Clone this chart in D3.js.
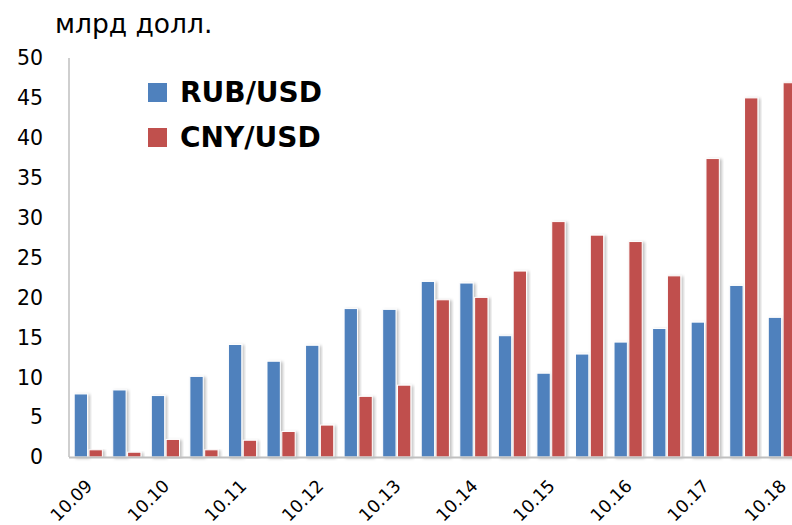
<!DOCTYPE html>
<html>
<head>
<meta charset="utf-8">
<script src="https://cdn.jsdelivr.net/npm/d3@7"></script>
<style>
  body { margin: 0; background: #fff; }
  svg text { font-family: "DejaVu Sans", sans-serif; fill: #000; }
</style>
</head>
<body>
<div id="chart"></div>
<script>
// semi-annual periods, only October ones are labelled
const categories = ["10.09", "04.10", "10.10", "04.11", "10.11", "04.12", "10.12", "04.13", "10.13",
  "04.14", "10.14", "04.15", "10.15", "04.16", "10.16", "04.17", "10.17", "04.18", "10.18"];
const rubUsd = [7.9, 8.4, 7.7, 10.1, 14.1, 12.0, 14.0, 18.6, 18.5, 22.0, 21.8, 15.2, 10.5, 12.9, 14.4, 16.1, 16.9, 21.5, 17.5];
const cnyUsd = [0.9, 0.6, 2.2, 0.9, 2.1, 3.2, 4.0, 7.6, 9.0, 19.7, 20.0, 23.3, 29.5, 27.8, 27.0, 22.7, 37.4, 45.0, 46.9];
const seriesNames = ["RUB/USD", "CNY/USD"];
const seriesColors = ["#4F81BD", "#C0504D"];
const yTicks = [0, 5, 10, 15, 20, 25, 30, 35, 40, 45, 50];

const width = 792, height = 525;
const margin = { top: 58, left: 69, bottom: 68 };

const svg = d3.select("#chart").append("svg")
  .attr("width", width)
  .attr("height", height);

const defs = svg.append("defs");
defs.append("filter")
  .attr("id", "shadow")
  .attr("x", "-30%").attr("y", "-10%").attr("width", "160%").attr("height", "120%")
  .append("feDropShadow")
  .attr("dx", 2).attr("dy", 1)
  .attr("stdDeviation", 1.5)
  .attr("flood-color", "#000")
  .attr("flood-opacity", 0.25);

const x0 = d3.scaleBand()
  .domain(categories)
  .range([margin.left, margin.left + 38.56 * categories.length])
  .padding(0);

const x1 = d3.scaleBand()
  .domain(seriesNames)
  .range([0, x0.bandwidth()])
  .paddingInner(0.1)
  .paddingOuter(0.35);

const y = d3.scaleLinear()
  .domain([0, 50])
  .range([height - margin.bottom, margin.top]);

// y axis line
svg.append("line")
  .attr("x1", margin.left).attr("x2", margin.left)
  .attr("y1", y(50)).attr("y2", y(0))
  .attr("stroke", "#BFBFBF").attr("stroke-width", 1.5);

// y tick labels
svg.append("g")
  .selectAll("text")
  .data(yTicks)
  .join("text")
  .attr("x", 43)
  .attr("y", d => y(d))
  .attr("dy", "0.36em")
  .attr("text-anchor", "end")
  .attr("font-size", "20.5px")
  .text(d => d);

// bars
const data = categories.map((c, i) => ({ cat: c, values: [rubUsd[i], cnyUsd[i]] }));

const groups = svg.append("g")
  .selectAll("g")
  .data(data)
  .join("g")
  .attr("transform", d => `translate(${x0(d.cat)},0)`);

groups.selectAll("rect")
  .data(d => d.values.map((v, k) => ({ name: seriesNames[k], value: v, k: k })))
  .join("rect")
  .attr("x", d => x1(d.name))
  .attr("y", d => y(d.value))
  .attr("width", x1.bandwidth())
  .attr("height", d => y(0) - y(d.value))
  .attr("fill", d => seriesColors[d.k])
  .attr("stroke", "#fff")
  .attr("stroke-width", 1)
  .attr("filter", "url(#shadow)");

// x axis line
svg.append("line")
  .attr("x1", margin.left).attr("x2", width)
  .attr("y1", y(0) + 0.5).attr("y2", y(0) + 0.5)
  .attr("stroke", "#BFBFBF").attr("stroke-width", 2);

// x labels
svg.append("g")
  .selectAll("text")
  .data(categories.filter(c => c.startsWith("10.")))
  .join("text")
  .attr("transform", d => `translate(${x0(d) + x0.bandwidth() / 2 + 5},${y(0) + 30}) rotate(-45)`)
  .attr("text-anchor", "end")
  .attr("font-size", "17.5px")
  .text(d => d);

// title
svg.append("text")
  .attr("x", 55)
  .attr("y", 33)
  .attr("font-size", "26.5px")
  .text("млрд долл.");

// legend
const legend = svg.append("g")
  .selectAll("g")
  .data(seriesNames)
  .join("g")
  .attr("transform", (d, i) => `translate(148,${83 + i * 45})`);

legend.append("rect")
  .attr("width", 19).attr("height", 19)
  .attr("fill", (d, i) => seriesColors[i]);

legend.append("text")
  .attr("x", 32)
  .attr("y", 19)
  .attr("font-size", "28px")
  .attr("font-weight", "bold")
  .text(d => d);
</script>
</body>
</html>
